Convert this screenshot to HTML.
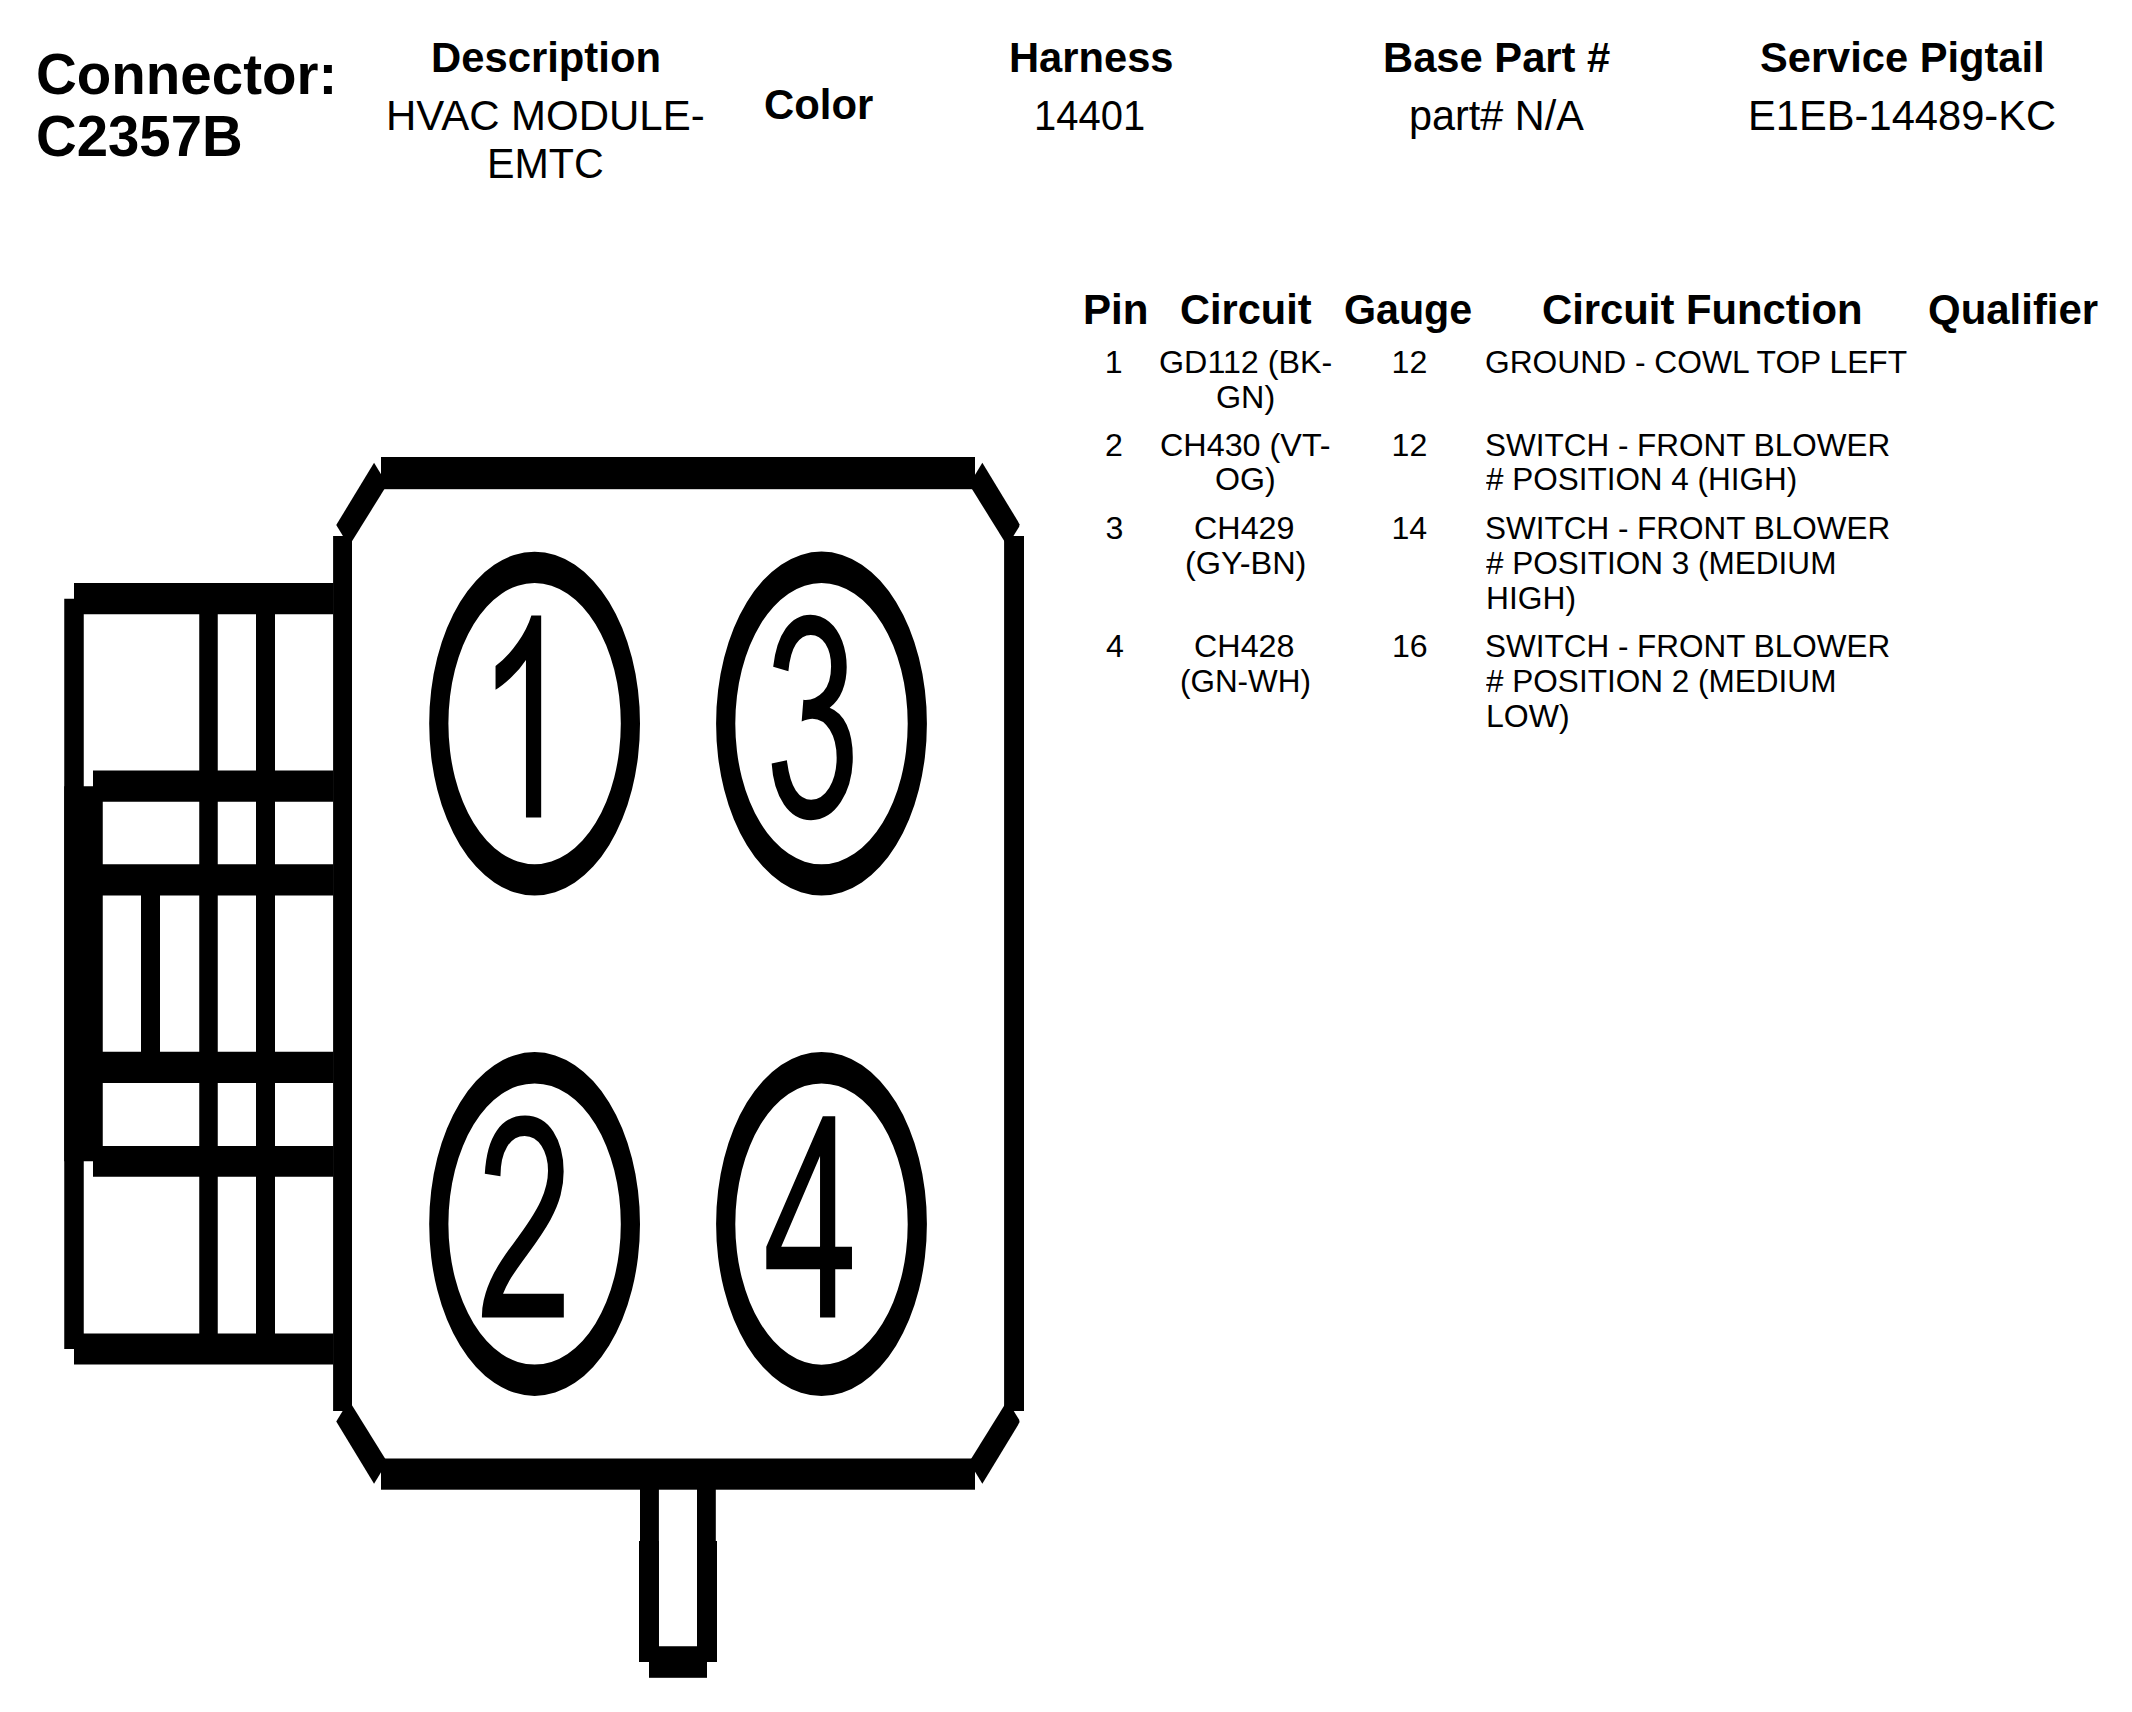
<!DOCTYPE html>
<html><head><meta charset="utf-8"><title>Connector C2357B</title>
<style>
html,body{margin:0;padding:0;background:#fff;}
body{width:2132px;height:1712px;position:relative;overflow:hidden;font-family:"Liberation Sans",sans-serif;color:#000;}
.t{position:absolute;white-space:pre;line-height:1;transform-origin:0 0;}
.b{font-weight:bold;}
svg{position:absolute;left:0;top:0;}
</style></head><body>
<svg width="2132" height="1712" viewBox="0 0 2132 1712" shape-rendering="geometricPrecision" fill="#000">
<rect x="381" y="457" width="594" height="32.2"/>
<rect x="381" y="1458.5" width="594" height="31.2"/>
<rect x="333.1" y="536" width="18.9" height="875"/>
<rect x="1004.1" y="536" width="19.9" height="875"/>
<polygon points="374.06,462.8 387.24,484.5 349.04,546.04 336.25,525"/>
<polygon points="374.06,1483.7 387.24,1462 349.04,1400.46 336.25,1421.5"/>
<polygon points="982.34,462.8 969.16,484.5 1007.36,546.04 1019.15,526.7 1019.55,524.4 1017.75,521.05"/>
<polygon points="982.34,1483.7 969.16,1462 1007.36,1400.46 1019.15,1419.8 1019.55,1422.1 1017.75,1425.45"/>
<rect x="74" y="583" width="259.5" height="31.25"/>
<rect x="74" y="1333.5" width="259.5" height="31"/>
<rect x="64.25" y="598.75" width="19.5" height="750.25"/>
<rect x="64.25" y="786.25" width="38.5" height="375"/>
<rect x="199.25" y="614" width="18.5" height="720"/>
<rect x="256" y="614" width="19" height="720"/>
<rect x="141" y="895" width="19" height="157"/>
<rect x="93" y="770.5" width="240.5" height="31.25"/>
<rect x="83" y="864.25" width="250.5" height="31.25"/>
<rect x="83" y="1051.75" width="250.5" height="31.25"/>
<rect x="93" y="1146" width="240.5" height="30.75"/>
<rect x="640" y="1489" width="18.9" height="173"/>
<rect x="697" y="1489" width="18.8" height="173"/>
<rect x="639" y="1541" width="19.9" height="121"/>
<rect x="697" y="1541" width="20" height="121"/>
<rect x="639" y="1646.25" width="78" height="15.75"/>
<rect x="649" y="1661" width="58" height="16.8"/>
<path fill-rule="evenodd" d="M429.2,723.6a105.4,171.9 0 1,0 210.8,0a105.4,171.9 0 1,0 -210.8,0z M448.4,723.6a86.2,140.6 0 1,0 172.4,0a86.2,140.6 0 1,0 -172.4,0z"/>
<path fill-rule="evenodd" d="M429.2,1224a105.4,171.9 0 1,0 210.8,0a105.4,171.9 0 1,0 -210.8,0z M448.4,1224a86.2,140.6 0 1,0 172.4,0a86.2,140.6 0 1,0 -172.4,0z"/>
<path fill-rule="evenodd" d="M716.1,723.6a105.4,171.9 0 1,0 210.8,0a105.4,171.9 0 1,0 -210.8,0z M735.3,723.6a86.2,140.6 0 1,0 172.4,0a86.2,140.6 0 1,0 -172.4,0z"/>
<path fill-rule="evenodd" d="M716.1,1224a105.4,171.9 0 1,0 210.8,0a105.4,171.9 0 1,0 -210.8,0z M735.3,1224a86.2,140.6 0 1,0 172.4,0a86.2,140.6 0 1,0 -172.4,0z"/>
<path transform="translate(476.7,817.4) scale(0.0845,-0.1372)" d="M763 0H583V1147Q518 1085 412.5 1023Q307 961 223 930V1104Q374 1175 487 1276Q600 1377 647 1472H763Z"/>
<path transform="translate(764.4,816.6) scale(0.0845,-0.1372)" d="M86 387L266 411Q297 258 371.5 190.5Q446 123 553 123Q680 123 767.5 211Q855 299 855 429Q855 553 774 633.5Q693 714 568 714Q517 714 441 694L461 852Q479 850 490 850Q605 850 697 910Q789 970 789 1095Q789 1194 722 1259Q655 1324 549 1324Q444 1324 374 1258Q304 1192 284 1060L104 1092Q137 1273 254 1372.5Q371 1472 545 1472Q665 1472 766 1420.5Q867 1369 920.5 1280Q974 1191 974 1091Q974 996 923 918Q872 840 772 794Q902 764 974 669.5Q1046 575 1046 433Q1046 241 906 107.5Q766 -26 552 -26Q359 -26 231.5 89Q104 204 86 387Z"/>
<path transform="translate(476.7,1317.5) scale(0.0845,-0.1372)" d="M1031 173V0H62Q60 65 83 125Q120 224 201.5 320Q283 416 437 542Q676 738 760 852.5Q844 967 844 1069Q844 1176 767.5 1249.5Q691 1323 568 1323Q438 1323 360 1245Q282 1167 281 1029L96 1048Q115 1255 239 1363.5Q363 1472 572 1472Q783 1472 906 1355Q1029 1238 1029 1065Q1029 977 993 892Q957 807 873.5 713Q790 619 596 455Q434 319 388 270.5Q342 222 312 173Z"/>
<path transform="translate(764.1,1317.5) scale(0.0845,-0.1372)" d="M662 0V351H26V516L695 1466H842V516H1040V351H842V0ZM662 516V1177L203 516Z"/>
</svg>
<div class="t b" style="left:36.06px;top:45px;font-size:58.14px;transform:scaleX(0.9719);">Connector:</div>
<div class="t b" style="left:36.06px;top:107px;font-size:58.14px;transform:scaleX(0.9689);">C2357B</div>
<div class="t b" style="left:430.84px;top:37px;font-size:42.33px;transform:scaleX(0.9877);">Description</div>
<div class="t" style="left:385.78px;top:95px;font-size:42.33px;transform:scaleX(0.9913);">HVAC MODULE-</div>
<div class="t" style="left:487.08px;top:143px;font-size:42.33px;transform:scaleX(0.9739);">EMTC</div>
<div class="t b" style="left:764.27px;top:84px;font-size:42.33px;transform:scaleX(0.9884);">Color</div>
<div class="t b" style="left:1008.8px;top:37px;font-size:42.33px;transform:scaleX(0.9846);">Harness</div>
<div class="t" style="left:1034.17px;top:95px;font-size:42.33px;transform:scaleX(0.9447);">14401</div>
<div class="t b" style="left:1382.79px;top:37px;font-size:42.33px;transform:scaleX(0.9857);">Base Part #</div>
<div class="t" style="left:1408.82px;top:95px;font-size:42.33px;transform:scaleX(0.9773);">part# N/A</div>
<div class="t b" style="left:1760.02px;top:37px;font-size:42.33px;transform:scaleX(0.9834);">Service Pigtail</div>
<div class="t" style="left:1747.8px;top:95px;font-size:42.33px;transform:scaleX(0.9846);">E1EB-14489-KC</div>
<div class="t b" style="left:1082.55px;top:288px;font-size:42.84px;transform:scaleX(0.9836);">Pin</div>
<div class="t b" style="left:1179.56px;top:288px;font-size:42.84px;transform:scaleX(0.9699);">Circuit</div>
<div class="t b" style="left:1344.08px;top:288px;font-size:42.84px;transform:scaleX(0.9615);">Gauge</div>
<div class="t b" style="left:1541.55px;top:288px;font-size:42.84px;transform:scaleX(0.9761);">Circuit Function</div>
<div class="t b" style="left:1928.29px;top:288px;font-size:42.84px;transform:scaleX(0.9795);">Qualifier</div>
<div class="t" style="left:1104.65px;top:346px;font-size:32.13px;">1</div>
<div class="t" style="left:1158.79px;top:346px;font-size:32.13px;transform:scaleX(1.0041);">GD112 (BK-</div>
<div class="t" style="left:1215.74px;top:381px;font-size:32.13px;transform:scaleX(1.0045);">GN)</div>
<div class="t" style="left:1391.62px;top:346px;font-size:32.13px;">12</div>
<div class="t" style="left:1485.02px;top:346px;font-size:32.13px;transform:scaleX(0.9882);">GROUND - COWL TOP LEFT</div>
<div class="t" style="left:1105.12px;top:429px;font-size:32.13px;">2</div>
<div class="t" style="left:1159.99px;top:429px;font-size:32.13px;transform:scaleX(1.0060);">CH430 (VT-</div>
<div class="t" style="left:1215.1px;top:463px;font-size:32.13px;">OG)</div>
<div class="t" style="left:1391.62px;top:429px;font-size:32.13px;">12</div>
<div class="t" style="left:1484.79px;top:429px;font-size:32.13px;transform:scaleX(0.9799);">SWITCH - FRONT BLOWER</div>
<div class="t" style="left:1486px;top:463px;font-size:32.13px;transform:scaleX(0.9794);"># POSITION 4 (HIGH)</div>
<div class="t" style="left:1105.5px;top:512px;font-size:32.13px;">3</div>
<div class="t" style="left:1194.49px;top:512px;font-size:32.13px;transform:scaleX(1.0052);">CH429</div>
<div class="t" style="left:1184.98px;top:547px;font-size:32.13px;transform:scaleX(1.0103);">(GY-BN)</div>
<div class="t" style="left:1391.5px;top:512px;font-size:32.13px;">14</div>
<div class="t" style="left:1484.79px;top:512px;font-size:32.13px;transform:scaleX(0.9799);">SWITCH - FRONT BLOWER</div>
<div class="t" style="left:1486px;top:547px;font-size:32.13px;transform:scaleX(0.9816);"># POSITION 3 (MEDIUM</div>
<div class="t" style="left:1485.53px;top:582px;font-size:32.13px;transform:scaleX(0.9884);">HIGH)</div>
<div class="t" style="left:1105.88px;top:630px;font-size:32.13px;">4</div>
<div class="t" style="left:1194.49px;top:630px;font-size:32.13px;transform:scaleX(1.0052);">CH428</div>
<div class="t" style="left:1180.04px;top:665px;font-size:32.13px;transform:scaleX(0.9785);">(GN-WH)</div>
<div class="t" style="left:1392px;top:630px;font-size:32.13px;">16</div>
<div class="t" style="left:1484.79px;top:630px;font-size:32.13px;transform:scaleX(0.9799);">SWITCH - FRONT BLOWER</div>
<div class="t" style="left:1486px;top:665px;font-size:32.13px;transform:scaleX(0.9816);"># POSITION 2 (MEDIUM</div>
<div class="t" style="left:1485.51px;top:700px;font-size:32.13px;transform:scaleX(0.9968);">LOW)</div>
</body></html>
